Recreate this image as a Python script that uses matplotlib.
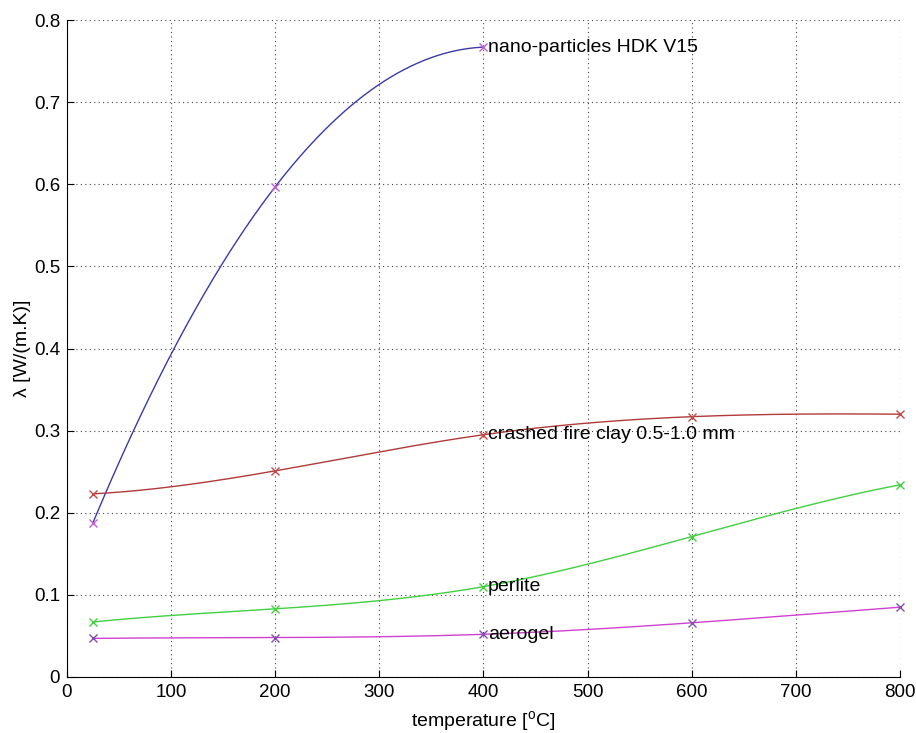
import numpy as np
import matplotlib
matplotlib.use("Agg")
from matplotlib import pyplot as plt

plt.rcParams['font.family'] = ['Liberation Sans', 'DejaVu Sans']

# measured points
temp_nano = [25, 200, 400]
lam_nano = [0.188, 0.597, 0.767]

temp = [25, 200, 400, 600, 800]
lam_clay = [0.223, 0.251, 0.295, 0.317, 0.320]
lam_perlite = [0.067, 0.083, 0.110, 0.171, 0.234]
lam_aerogel = [0.047, 0.048, 0.052, 0.066, 0.085]

names = ['nano-particles HDK V15', 'crashed fire clay 0.5-1.0 mm', 'perlite', 'aerogel']


def spline(x, y, xs):
    # matlab style not-a-knot spline (3 points -> parabola)
    x = np.asarray(x, float)
    y = np.asarray(y, float)
    if len(x) == 3:
        return np.polyval(np.polyfit(x, y, 2), xs)
    n = len(x)
    h = np.diff(x)
    A = np.zeros((n, n))
    b = np.zeros(n)
    A[0, :3] = [h[1], -(h[0] + h[1]), h[0]]
    A[-1, -3:] = [h[-1], -(h[-2] + h[-1]), h[-2]]
    for i in range(1, n - 1):
        A[i, i - 1:i + 2] = [h[i - 1], 2 * (h[i - 1] + h[i]), h[i]]
        b[i] = 6 * ((y[i + 1] - y[i]) / h[i] - (y[i] - y[i - 1]) / h[i - 1])
    M = np.linalg.solve(A, b)
    k = np.clip(np.searchsorted(x, xs) - 1, 0, n - 2)
    hk = h[k]
    a = x[k + 1] - xs
    c = xs - x[k]
    return (M[k] * a**3 / (6 * hk) + M[k + 1] * c**3 / (6 * hk)
            + (y[k] / hk - M[k] * hk / 6) * a + (y[k + 1] / hk - M[k + 1] * hk / 6) * c)


fig = plt.figure(figsize=(9.16, 7.33), dpi=100)
ax = fig.add_axes([0.0731, 0.0764, 0.9094, 0.8963])

series = [
    (temp_nano, lam_nano, '#3a3aa8', '#c060d0'),
    (temp, lam_clay, '#b03a3a', '#c04848'),
    (temp, lam_perlite, '#40d040', '#40d040'),
    (temp, lam_aerogel, '#d040d0', '#8050b0'),
]

for (x, y, lc, mc), name in zip(series, names):
    xs = np.linspace(x[0], x[-1], 300)
    ax.plot(xs, spline(x, y, xs), color=lc, lw=1)
    ax.plot(x, y, 'x', color=mc, ms=6, mew=1, clip_on=False)
    i = x.index(400)
    ax.text(404, y[i], name, fontsize=14, va='center', ha='left')

ax.set_xlim(0, 800)
ax.set_ylim(0, 0.8)
ax.set_xticks(np.arange(0, 801, 100))
ax.set_yticks(np.arange(0, 0.81, 0.1))
ax.set_yticklabels(['0', '0.1', '0.2', '0.3', '0.4', '0.5', '0.6', '0.7', '0.8'])
ax.grid(True, linestyle=(0, (1, 3)), color='#444444', lw=0.8)
ax.tick_params(direction='in', labelsize=13.5, length=5, pad=5)
ax.spines['top'].set_visible(False)
ax.spines['right'].set_visible(False)
ax.set_xlabel('temperature [$^\\mathregular{o}$C]', fontsize=14, labelpad=6)
ax.set_ylabel('\u03bb [W/(m.K)]', fontsize=14, labelpad=2)

fig.savefig('out.png', dpi=100)
